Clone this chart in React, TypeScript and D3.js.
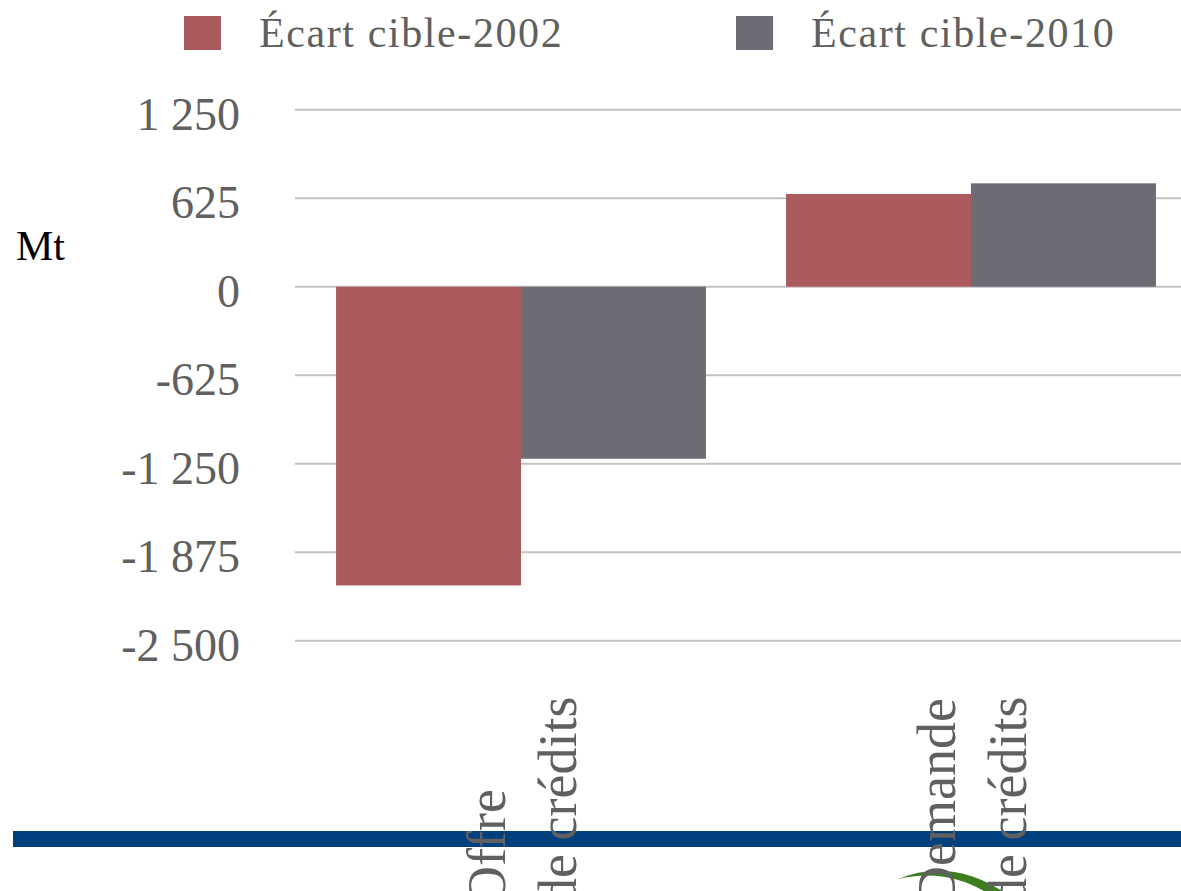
import * as d3 from 'd3';

const W = 1181;
const H = 891;

// data
const categories = ['Offre de crédits', 'Demande de crédits'];
const labelLines = [['Offre', 'de crédits'], ['Demande', 'de crédits']];
const series = ['Écart cible-2002', 'Écart cible-2010'];
const ecart2002 = [-2110, 655];
const ecart2010 = [-1215, 730];
const yTicks = [-2500, -1875, -1250, -625, 0, 625, 1250];

const COLORS = ['#ab5b5e', '#6b6c74'];
const TEXT = '#606060';
const FONT = "'Book Antiqua', Palatino, 'Liberation Serif', serif";

const fr = d3.formatLocale({ decimal: ',', thousands: ' ', grouping: [3], currency: ['', ' €'], minus: '-' });
const fmt = fr.format(',d');

const App = () => {
  const values = [ecart2002, ecart2010];

  const x0 = d3.scaleBand().domain(categories).range([296, 1196]).paddingInner(0.178).paddingOuter(0.089);
  const x1 = d3.scaleBand().domain(series).range([0, x0.bandwidth()]);
  const y = d3.scaleLinear().domain([-2500, 1250]).range([640.7, 109.7]);

  const grid = yTicks.map((t) => (
    <g key={t}>
      <line x1={295} x2={W} y1={y(t)} y2={y(t)} stroke="#c2c2c2" strokeWidth={2} />
      <text x={240} y={y(t) + 20} textAnchor="end" fontFamily={FONT} fontSize={46} fill={TEXT}>
        {fmt(t)}
      </text>
    </g>
  ));

  const bars = categories.map((c, i) => (
    <g key={c} transform={`translate(${x0(c)},0)`}>
      {series.map((s, j) => {
        const v = values[j][i];
        return (
          <rect
            key={s}
            x={x1(s)}
            y={y(Math.max(0, v))}
            width={x1.bandwidth()}
            height={Math.abs(y(v) - y(0))}
            fill={COLORS[j]}
          />
        );
      })}
    </g>
  ));

  // rotated two-line category labels, reading bottom to top
  const labels = categories.map((c, i) => {
    const cx = (x0(c) ?? 0) + x0.bandwidth() / 2;
    return (
      <g key={c}>
        {labelLines[i].map((line, k) => (
          <text
            key={k}
            transform={`translate(${cx - 16 + k * 71},905) rotate(-90)`}
            textAnchor="start"
            fontFamily={FONT}
            fontSize={54}
            fill={TEXT}
          >
            {line}
          </text>
        ))}
      </g>
    );
  });

  const legendX = [184, 736];

  return (
    <svg width={W} height={H} style={{ position: 'absolute', left: 0, top: 0, background: '#fff' }}>
      <rect width={W} height={H} fill="#fff" />
      {series.map((s, j) => (
        <g key={s}>
          <rect x={legendX[j]} y={16} width={37} height={34} fill={COLORS[j]} />
          <text x={legendX[j] + 75} y={47} fontFamily={FONT} fontSize={42} letterSpacing={1.6} fill={TEXT}>
            {s}
          </text>
        </g>
      ))}
      <text x={16} y={260} fontFamily="'Liberation Serif', serif" fontSize={42} fill="#000">
        Mt
      </text>
      {grid}
      {bars}
      {/* slide footer: blue rule and logo fragment */}
      <rect x={13} y={831} width={W - 13} height={16} fill="#01407f" />
      <path d="M898,879 Q950,858 1002,891 L984,891 Q944,868 898,879 Z" fill="#3d7f1f" />
      {labels}
    </svg>
  );
};

export default App;
